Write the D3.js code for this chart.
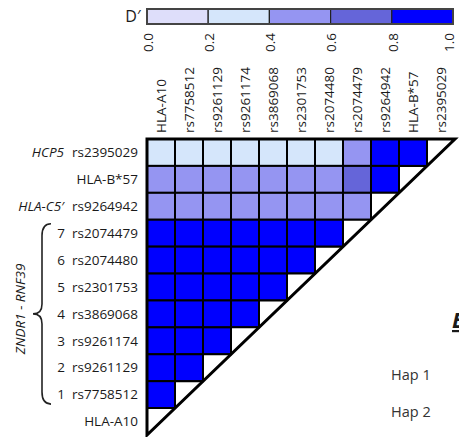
<!DOCTYPE html>
<meta charset="utf-8">
<head>
  <script src="https://d3js.org/d3.v7.min.js"></script>
<style>
body { margin: 0; background: #fff; }
text { font-family: "Open Sans", sans-serif; fill: #1a1a1a; }
</style>
</head>
<body>
<script>

// markers, left to right along the columns
var colMarkers = ["HLA-A10", "rs7758512", "rs9261129", "rs9261174", "rs3869068",
                  "rs2301753", "rs2074480", "rs2074479", "rs9264942", "HLA-B*57", "rs2395029"];
// rows, top to bottom
var rowMarkers = colMarkers.slice().reverse();

// D' per row (top to bottom), one value per column left of the diagonal
var dRow0 = [0.3, 0.3, 0.3, 0.3, 0.3, 0.3, 0.3, 0.5, 1.0, 1.0];
var dRow1 = [0.5, 0.5, 0.5, 0.5, 0.5, 0.5, 0.5, 0.7, 1.0];
var dRow2 = [0.5, 0.5, 0.5, 0.5, 0.5, 0.5, 0.5, 0.5];
var dRow3 = [1, 1, 1, 1, 1, 1, 1];
var dRow4 = [1, 1, 1, 1, 1, 1];
var dRow5 = [1, 1, 1, 1, 1];
var dRow6 = [1, 1, 1, 1];
var dRow7 = [1, 1, 1];
var dRow8 = [1, 1];
var dRow9 = [1];
var dRow10 = [];
var dRows = [dRow0, dRow1, dRow2, dRow3, dRow4, dRow5, dRow6, dRow7, dRow8, dRow9, dRow10];

var legendTicks = [0.0, 0.2, 0.4, 0.6, 0.8, 1.0];
var legendColors = ["#dedefa", "#d5e6fb", "#9595f2", "#6565d9", "#0000ff"];

// gene annotations on the left
var geneLabels = [{row: "rs2395029", text: "HCP5"}, {row: "rs9264942", text: "HLA-C5\u2032"}];
var znNumbers = [7, 6, 5, 4, 3, 2, 1];
var znRows = ["rs2074479", "rs2074480", "rs2301753", "rs3869068", "rs9261174", "rs9261129", "rs7758512"];
var hapLabels = ["Hap 1", "Hap 2"];

var W = 459, H = 437;
var svg = d3.select("body").append("svg")
    .attr("width", W)
    .attr("height", H);

var x = d3.scaleBand().domain(colMarkers).range([147, 455]);
var y = d3.scaleBand().domain(rowMarkers).range([139, 435]);
var color = d3.scaleThreshold().domain([0.2, 0.4, 0.6, 0.8]).range(legendColors);
var lx = d3.scaleLinear().domain([0, 1]).range([147, 453]);

// Legend
var legend = svg.append("g");
legend.selectAll("rect")
    .data(d3.pairs(legendTicks))
    .enter().append("rect")
    .attr("x", function(d) { return lx(d[0]); })
    .attr("y", 9)
    .attr("width", function(d) { return lx(d[1]) - lx(d[0]); })
    .attr("height", 15)
    .attr("fill", function(d, i) { return legendColors[i]; })
    .attr("stroke", "#222")
    .attr("stroke-width", 1.2);
legend.append("rect")
    .attr("x", lx(0)).attr("y", 9)
    .attr("width", lx(1) - lx(0)).attr("height", 15)
    .attr("fill", "none").attr("stroke", "#444").attr("stroke-width", 2);
legend.append("text")
    .attr("x", 133).attr("y", 22)
    .attr("text-anchor", "middle")
    .style("font-size", "16px")
    .text("D\u2032");
legend.selectAll(".tick")
    .data(legendTicks)
    .enter().append("text")
    .attr("class", "tick")
    .attr("transform", function(d) { return "translate(" + Math.min(lx(d) + 1, 449) + ",33) rotate(-90)"; })
    .attr("dy", "0.35em")
    .attr("text-anchor", "end")
    .style("font-size", "13.5px")
    .text(function(d) { return d3.format(".1f")(d); });

// Column labels
svg.selectAll(".colLabel")
    .data(colMarkers)
    .enter().append("text")
    .attr("class", "colLabel")
    .attr("transform", function(d) { return "translate(" + (x(d) + x.bandwidth() / 2) + ",133) rotate(-90)"; })
    .attr("dy", "0.35em")
    .style("font-size", "13.5px")
    .text(function(d) { return d; });

// Row labels
svg.selectAll(".rowLabel")
    .data(rowMarkers)
    .enter().append("text")
    .attr("class", "rowLabel")
    .attr("x", 138)
    .attr("y", function(d) { return y(d) + y.bandwidth() / 2; })
    .attr("dy", "0.35em")
    .attr("text-anchor", "end")
    .style("font-size", "13.5px")
    .text(function(d) { return d; });

// Cells
var cells = [];
dRows.forEach(function(vals, r) {
  vals.forEach(function(v, c) {
    cells.push({row: rowMarkers[r], col: colMarkers[c], value: v});
  });
});
svg.selectAll(".cell")
    .data(cells)
    .enter().append("rect")
    .attr("class", "cell")
    .attr("x", function(d) { return x(d.col); })
    .attr("y", function(d) { return y(d.row); })
    .attr("width", x.bandwidth())
    .attr("height", y.bandwidth())
    .attr("fill", function(d) { return color(d.value); })
    .attr("stroke", "#000")
    .attr("stroke-width", 2);

// Diagonal half cells
svg.selectAll(".diag")
    .data(rowMarkers)
    .enter().append("path")
    .attr("class", "diag")
    .attr("d", function(d, i) {
      var x0 = x(colMarkers[colMarkers.length - 1 - i]), y0 = y(d);
      return "M" + x0 + "," + (y0 + y.bandwidth()) + "L" + x0 + "," + y0 + "L" + (x0 + x.bandwidth()) + "," + y0;
    })
    .attr("fill", "#fff")
    .attr("stroke", "#000")
    .attr("stroke-width", 2);

// Outer border and diagonal
var x0 = x.range()[0], x1 = x.range()[1], y0 = y.range()[0], y1 = y.range()[1];
svg.append("path")
    .attr("d", "M" + x0 + "," + y1 + "L" + x0 + "," + y0 + "L" + x1 + "," + y0 + "Z")
    .attr("fill", "none")
    .attr("stroke", "#000")
    .attr("stroke-width", 3)
    .attr("stroke-linejoin", "miter");

// Gene labels
svg.selectAll(".gene")
    .data(geneLabels)
    .enter().append("text")
    .attr("class", "gene")
    .attr("x", 64)
    .attr("y", function(d) { return y(d.row) + y.bandwidth() / 2; })
    .attr("dy", "0.35em")
    .attr("text-anchor", "end")
    .style("font-size", "13.5px")
    .style("font-style", "italic")
    .text(function(d) { return d.text; });

svg.selectAll(".num")
    .data(znNumbers)
    .enter().append("text")
    .attr("class", "num")
    .attr("x", 65)
    .attr("y", function(d, i) { return y(znRows[i]) + y.bandwidth() / 2; })
    .attr("dy", "0.35em")
    .attr("text-anchor", "end")
    .style("font-size", "13.5px")
    .text(function(d) { return d; });

// Curly brace
var bTop = y(znRows[0]) + 4, bBot = y(znRows[znRows.length - 1]) + y.bandwidth() - 4, bMid = (bTop + bBot) / 2;
svg.append("path")
    .attr("d", "M51," + bTop + " Q42," + bTop + " 42," + (bTop + 12) +
               " L42," + (bMid - 10) + " Q42," + bMid + " 33," + bMid +
               " Q42," + bMid + " 42," + (bMid + 10) +
               " L42," + (bBot - 12) + " Q42," + bBot + " 51," + bBot)
    .attr("fill", "none")
    .attr("stroke", "#222")
    .attr("stroke-width", 1.6);

svg.append("text")
    .attr("transform", "translate(20," + (bMid - 5) + ") rotate(-90)")
    .attr("dy", "0.35em")
    .attr("text-anchor", "middle")
    .style("font-size", "13.5px")
    .style("font-style", "italic")
    .text("ZNDR1 - RNF39");

// Haplotype labels on the right
svg.selectAll(".hap")
    .data(hapLabels)
    .enter().append("text")
    .attr("class", "hap")
    .attr("x", 391)
    .attr("y", function(d, i) { return 375 + i * 37; })
    .attr("dy", "0.35em")
    .style("font-size", "14.5px")
    .style("fill", "#333")
    .text(function(d) { return d; });

// panel letter cut off by the right edge, as in the source figure
svg.append("text")
    .attr("x", 452)
    .attr("y", 328)
    .style("font-size", "22px")
    .style("font-weight", "bold")
    .style("font-style", "italic")
    .style("text-decoration", "underline")
    .text("B");

</script>
</body>
